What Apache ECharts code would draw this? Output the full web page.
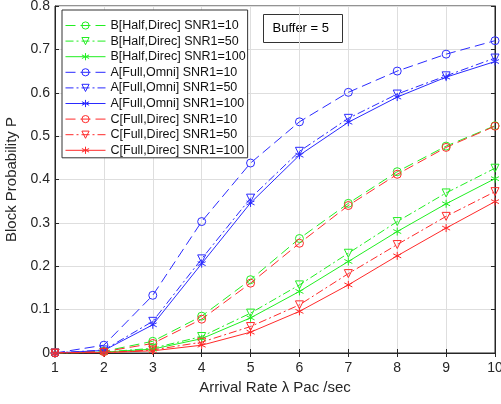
<!DOCTYPE html>
<html><head><meta charset="utf-8">
<script src="https://cdn.jsdelivr.net/npm/echarts@6/dist/echarts.min.js"></script>
<style>html,body{margin:0;padding:0;background:#fff}#c{width:501px;height:404px}</style>
</head><body><div id="c"></div>
<script>
var categories = [1,2,3,4,5,6,7,8,9,10];
var B10  = [0,0.004,0.027,0.085,0.169,0.264,0.345,0.418,0.477,0.524];
var B50  = [0,0.002,0.011,0.038,0.092,0.157,0.230,0.303,0.369,0.426];
var B100 = [0,0.002,0.009,0.033,0.081,0.142,0.211,0.280,0.344,0.402];
var A10  = [0,0.018,0.133,0.303,0.438,0.533,0.601,0.650,0.689,0.720];
var A50  = [0,0.007,0.073,0.217,0.357,0.465,0.541,0.597,0.639,0.680];
var A100 = [0,0.006,0.065,0.206,0.346,0.456,0.532,0.590,0.636,0.672];
var C10  = [0,0.003,0.022,0.078,0.161,0.253,0.340,0.412,0.474,0.523];
var C50  = [0,0.001,0.007,0.025,0.061,0.111,0.183,0.250,0.315,0.372];
var C100 = [0,0.001,0.005,0.018,0.048,0.096,0.157,0.224,0.288,0.349];
var yTicks = [0,0.1,0.2,0.3,0.4,0.5,0.6,0.7,0.8];
var names = ['B[Half,Direc] SNR1=10','B[Half,Direc] SNR1=50','B[Half,Direc] SNR1=100',
             'A[Full,Omni] SNR1=10','A[Full,Omni] SNR1=50','A[Full,Omni] SNR1=100',
             'C[Full,Direc] SNR1=10','C[Full,Direc] SNR1=50','C[Full,Direc] SNR1=100'];
var datasets = [B10,B50,B100,A10,A50,A100,C10,C50,C100];
var GREEN='#22ee22', BLUE='#2a2aff', RED='#ff2a2a';
var colors = [GREEN,GREEN,GREEN,BLUE,BLUE,BLUE,RED,RED,RED];
var CIRC='path://M0,-4A4,4 0 1,1 0,4A4,4 0 1,1 0,-4Z';
var TRI='path://M-4,-3.5L4,-3.5L0,3.5Z';
var AST='path://M0,-4L0,4M-3.5,-2L3.5,2M-3.5,2L3.5,-2';
var symbols=[CIRC,TRI,AST];
var dashes=[[10,5],[8,3,2,3],'solid'];

var series = datasets.map(function(d,i){
  return {
    name:names[i], type:'line', data:d.map(function(v,j){return [categories[j],v];}),
    symbol:symbols[i%3], symbolSize:8, showSymbol:true,
    lineStyle:{color:colors[i], width:1, type:dashes[i%3]},
    itemStyle:{color:'rgba(0,0,0,0)', borderColor:colors[i], borderWidth:1},
    emphasis:{disabled:true}, z:2
  };
});

var FONT='Liberation Sans, Arial';
var chart = echarts.init(document.getElementById('c'));
var axisCol='#262626';
chart.setOption({
  animation:false,
  grid:{left:55,right:6,top:6,bottom:51,show:true,borderColor:axisCol,borderWidth:1,
    containLabel:false,outerBoundsMode:'none'},
  legend:{orient:'vertical',left:62,top:10,itemWidth:40,itemHeight:9,itemGap:2.6,
    padding:[9,2,1,3],backgroundColor:'#fff',borderColor:'#333',borderWidth:1,
    lineStyle:{width:1},itemStyle:{borderWidth:1},
    textStyle:{fontFamily:FONT,fontSize:12.5,lineHeight:12,color:'#111'},
    data:names, z:10},
  xAxis:[{type:'value',min:1,max:10,interval:1,
    name:'Arrival Rate λ Pac /sec',nameLocation:'middle',nameGap:27,
    nameTextStyle:{fontFamily:FONT,fontSize:15,color:'#262626'},
    axisLine:{lineStyle:{color:axisCol}},axisTick:{inside:true,length:4,lineStyle:{color:axisCol}},
    axisLabel:{fontFamily:FONT,fontSize:14,color:'#262626',margin:8},
    splitLine:{show:true,lineStyle:{color:'#dedede'}}},
    {type:'value',min:1,max:10,interval:1,position:'top',axisLine:{lineStyle:{color:axisCol}},
    axisTick:{inside:true,length:4,lineStyle:{color:axisCol}},axisLabel:{show:false},splitLine:{show:false}}],
  yAxis:[{type:'value',min:0,max:0.8,interval:0.1,
    name:'Block Probability P',nameLocation:'middle',nameGap:30,
    nameTextStyle:{fontFamily:FONT,fontSize:15,color:'#262626'},
    axisLine:{show:true,lineStyle:{color:axisCol}},axisTick:{show:true,inside:true,length:4,lineStyle:{color:axisCol}},
    axisLabel:{fontFamily:FONT,fontSize:14,color:'#262626',margin:5,
      formatter:function(v){return String(Math.round(v*10)/10);}},
    splitLine:{show:true,lineStyle:{color:'#dedede'}}},
    {type:'value',min:0,max:0.8,interval:0.1,position:'right',axisLine:{show:true,lineStyle:{color:axisCol}},
    axisTick:{show:true,inside:true,length:4,lineStyle:{color:axisCol}},axisLabel:{show:false},splitLine:{show:false}}],
  graphic:[{type:'group',left:263,top:14,z:20,children:[
    {type:'rect',shape:{x:0,y:0,width:79,height:28},style:{fill:'#fff',stroke:'#333',lineWidth:1}},
    {type:'text',x:9,y:7,style:{text:'Buffer = 5',font:'13px "Liberation Sans", Arial',fill:'#000'}}]}],
  series:series
});
</script></body></html>
